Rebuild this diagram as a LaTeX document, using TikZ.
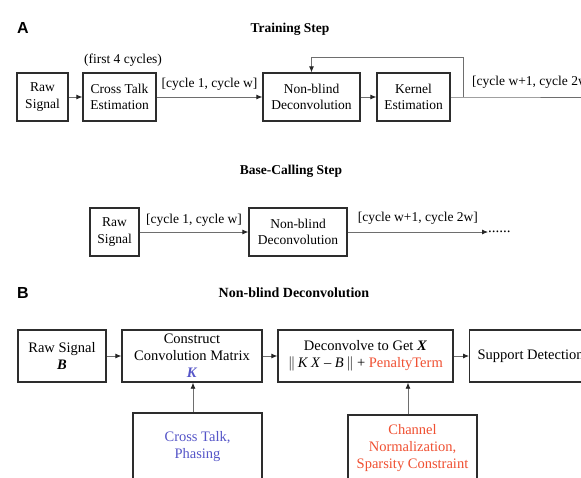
\documentclass[tikz,border=0pt]{standalone}
\usepackage{fontspec}
\setmainfont{Liberation Serif}
\newfontfamily\panelfont{Liberation Sans}
\usetikzlibrary{arrows.meta,calc}
\definecolor{boxline}{RGB}{45,45,45}
\definecolor{conline}{RGB}{110,110,110}
\definecolor{kblue}{RGB}{85,85,200}
\definecolor{pred}{RGB}{240,80,50}
\tikzset{
  boxA/.style={draw=boxline,line width=1.3pt,inner sep=0pt,align=center,minimum height=48pt,
    font=\fontsize{13.5}{16.5}\selectfont},
  boxB/.style={draw=boxline,line width=1.3pt,inner sep=0pt,align=center,minimum height=52pt,
    font=\fontsize{14.5}{17}\selectfont},
  conn/.style={draw=conline,line width=0.8pt,-{Latex[length=6pt,width=5pt,color=black!85]}},
  plain/.style={draw=conline,line width=0.8pt},
  lblA/.style={inner sep=0pt,anchor=base,font=\fontsize{13.5}{16}\selectfont},
  title/.style={inner sep=0pt,anchor=base,font=\fontsize{13.5}{16}\selectfont\bfseries},
  panel/.style={inner sep=0pt,anchor=base west,font=\fontsize{16}{18}\selectfont\panelfont\bfseries}
}
\begin{document}
\begin{tikzpicture}[x=1pt,y=-1pt]
\useasboundingbox (0,0) rectangle (581,477);
\clip (0,0) rectangle (581,477);
\fill[white] (0,0) rectangle (581,477);

% ---------- Panel A ----------
\node[panel] (labA) at (17,33) {A};
\node[title] (tTrain) at (290,32) {Training Step};
\node[lblA] (first) at (123,63) {(first 4 cycles)};

\node[boxA,minimum width=51pt] (rawA) at (42.5,97) {Raw\\Signal};
\node[boxA,minimum width=73pt] (ctA) at (119.5,97) {Cross Talk\\Estimation};
\node[boxA,minimum width=97pt] (nbA) at (311.5,97) {Non-blind\\Deconvolution};
\node[boxA,minimum width=73pt] (keA) at (413.5,97) {Kernel\\Estimation};

\coordinate (br) at (463,97);
\coordinate (fbtop) at (463,57);
\coordinate (endA) at (620,97);

\draw[conn] (rawA) -- (ctA);
\draw[conn] (ctA) -- node[lblA,above=6pt] (l1) {[cycle 1, cycle w]} (nbA);
\draw[conn] (nbA) -- (keA);
\draw[plain] (keA) -- (br) -- (endA);
\draw[conn] (br) -- (fbtop) -| (nbA.north);
\node[lblA,anchor=base west] (l2) at (472,85) {[cycle w+1, cycle 2w]};

% ---------- Base-calling ----------
\node[title] (tBase) at (291,174) {Base-Calling Step};
\node[boxA,minimum width=49pt] (rawC) at (114.5,232) {Raw\\Signal};
\node[boxA,minimum width=98pt] (nbC) at (298,232) {Non-blind\\Deconvolution};
\node[inner sep=0pt,anchor=west,font=\fontsize{15}{16}\selectfont] (dots) at (488,232) {......};
\draw[conn] (rawC) -- node[lblA,above=5pt] (l3) {[cycle 1, cycle w]} (nbC);
\draw[conn] (nbC) -- node[lblA,above=7pt] (l4) {[cycle w+1, cycle 2w]} (dots);

% ---------- Panel B ----------
\node[panel] (labB) at (17,298) {B};
\node[title,font=\fontsize{14}{16}\selectfont\bfseries] (tNB) at (294,297) {Non-blind Deconvolution};

\node[boxB,minimum width=88pt] (rawB) at (62,356) {Raw Signal\\\textbf{\textit{B}}};
\node[boxB,minimum width=140pt] (conB) at (192,356) {Construct\\Convolution Matrix\\\textcolor{kblue}{\textbf{\textit{K}}}};
\node[boxB,minimum width=175pt] (decB) at (365.5,356) {Deconvolve to Get \textbf{\textit{X}}\\
  $\|$\,\textit{K X} -- \textit{B}\,$\|$ + \textcolor{pred}{PenaltyTerm}};
\node[boxB,anchor=west,inner xsep=8pt] (supB) at (469,356) {Support Detection};

\node[boxB,minimum width=129pt,minimum height=67pt,text=kblue] (ctpB) at (197.5,446.5) {Cross Talk,\\Phasing};
\node[boxB,minimum width=129pt,minimum height=66pt,text=pred] (chB) at (412.5,448) {Channel\\Normalization,\\Sparsity Constraint};

\draw[conn] (rawB) -- (conB);
\draw[conn] (conB) -- (decB);
\draw[conn] (decB) -- (supB);
\draw[conn] ([xshift=-4.5pt]ctpB.north) -- ([xshift=-4.5pt]ctpB.north |- conB.south);
\draw[conn] ([xshift=-4.5pt]chB.north) -- ([xshift=-4.5pt]chB.north |- decB.south);
\end{tikzpicture}
\end{document}
